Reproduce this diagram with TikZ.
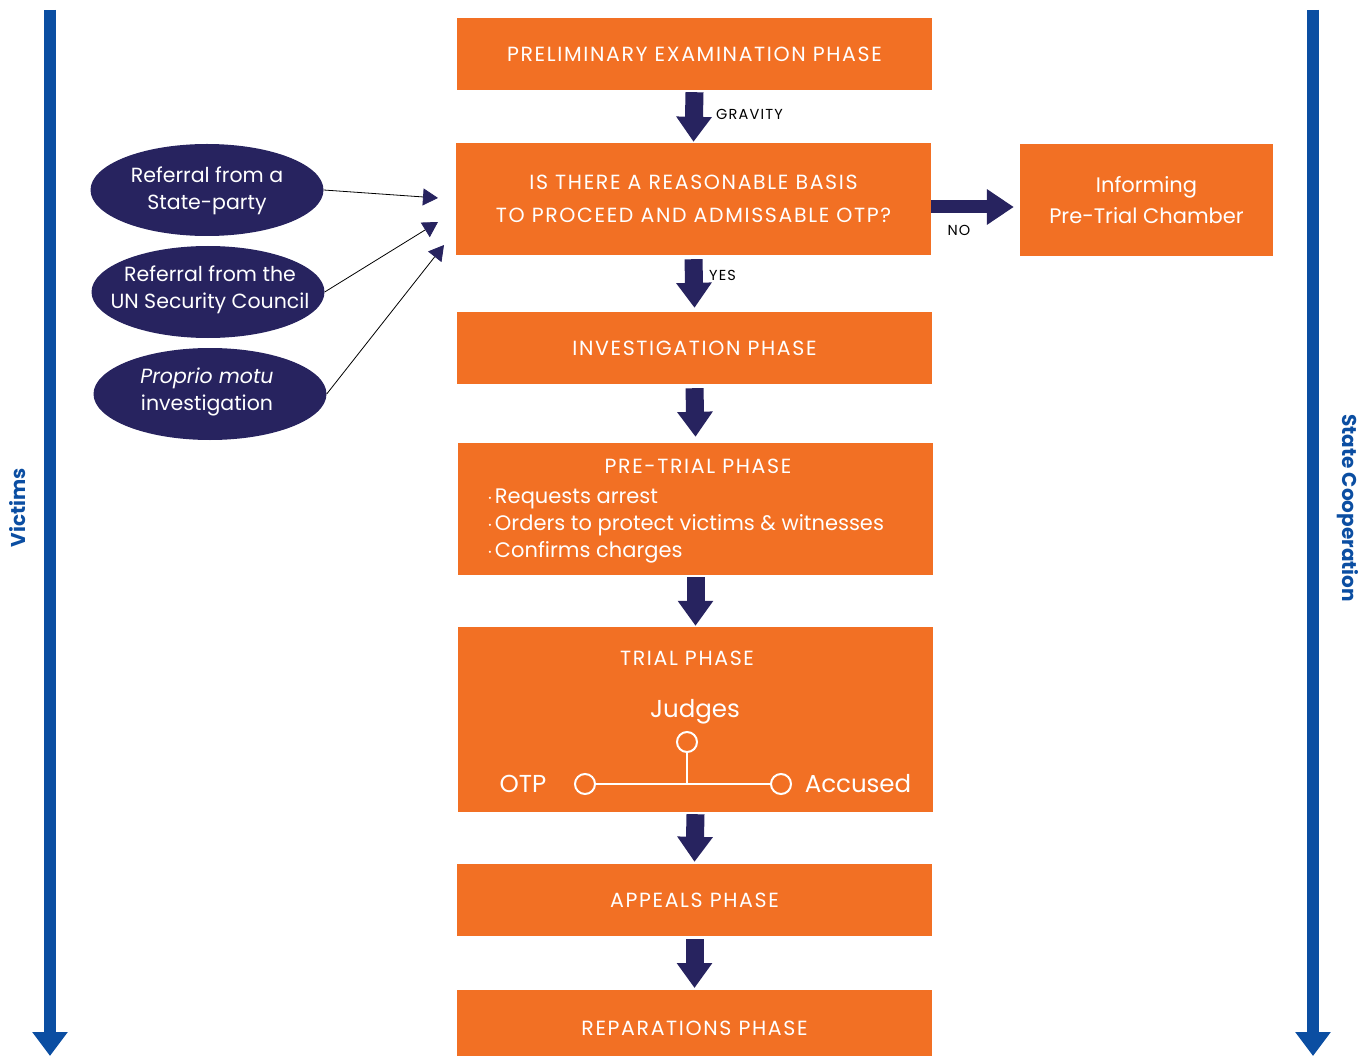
\documentclass[tikz,border=0pt]{standalone}
\usepackage{fontspec}
\setmainfont{Poppins}
\usetikzlibrary{arrows.meta,shapes.geometric}
\definecolor{icco}{HTML}{F27024}
\definecolor{iccnavy}{HTML}{27235F}
\definecolor{iccblue}{HTML}{0B4EA2}
\newcommand{\capsfont}{\fontsize{20.5}{33}\selectfont\addfontfeature{LetterSpace=8}}
\newcommand{\bul}{$\cdot$\hspace{2pt}}
\tikzset{
  phase/.style={fill=icco, draw=none, text=white, inner sep=0pt, align=center, font=\capsfont},
  source/.style={ellipse, fill=iccnavy, draw=none, inner sep=0pt, minimum width=233pt, minimum height=92pt},
  srctext/.style={text=white, inner sep=0pt, align=center, font=\fontsize{20.5}{26.5}\selectfont},
  blockarrow/.style={draw=iccnavy, line width=18pt, -{Triangle[width=34pt,length=25pt]}},
  thinarrow/.style={draw=black, line width=0.8pt, -{Triangle[width=17pt,length=15pt,fill=iccnavy,color=iccnavy]}},
  sidearrow/.style={draw=iccblue, line width=12pt, -{Triangle[width=34pt,length=24pt]}},
  sidelabel/.style={text=iccblue, font=\fontsize{20}{22}\selectfont\bfseries},
  smalllabel/.style={text=black, font=\fontsize{14.5}{16}\selectfont\addfontfeature{LetterSpace=8}, inner sep=0pt},
  ring/.style={circle, draw=white, line width=2pt, minimum size=20pt, inner sep=0pt},
  trialtxt/.style={text=white, inner sep=0pt, font=\fontsize{24.5}{28}\selectfont}
}
\begin{document}
\begin{tikzpicture}[x=1pt,y=-1pt]
\useasboundingbox (0,0) rectangle (1372,1056);

% side arrows
\coordinate (vtop) at (50,10);
\coordinate (vbot) at (50,1056);
\coordinate (stop) at (1313,10);
\coordinate (sbot) at (1313,1056);
\draw[sidearrow] (vtop) -- (vbot);
\draw[sidearrow] (stop) -- (sbot);
\node[sidelabel, rotate=90] (victims) at (18,508) {Victims};
\node[sidelabel, rotate=-90] (statecoop) at (1348,508) {State Cooperation};

% phases
\node[phase, minimum width=475pt, minimum height=72pt] (prelim) at (694.5,54) {PRELIMINARY EXAMINATION PHASE};
\node[phase, minimum width=475pt, minimum height=112pt] (basis) at (693.5,199) {IS THERE A REASONABLE BASIS\\TO PROCEED AND ADMISSABLE OTP?};
\node[phase, minimum width=253pt, minimum height=112pt, font=\fontsize{21}{31}\selectfont] (inform) at (1146.5,200) {Informing\\Pre-Trial Chamber};
\node[phase, minimum width=475pt, minimum height=72pt] (invest) at (694.5,348) {INVESTIGATION PHASE};
\node[phase, minimum width=475pt, minimum height=132pt] (pretrial) at (695.5,509) {};
\node[text=white, inner sep=0pt, font=\capsfont] (pttitle) at (698,466) {PRE-TRIAL PHASE};
\node[text=white, inner sep=0pt, anchor=west, align=left, font=\fontsize{21}{27}\selectfont] (ptlist) at (487,526) {\bul Requests arrest\\\bul Orders to protect victims \& witnesses\\\bul Confirms charges};
\node[phase, minimum width=475pt, minimum height=185pt] (trial) at (695.5,719.5) {};
\node[text=white, inner sep=0pt, font=\capsfont] (trtitle) at (687,658) {TRIAL PHASE};
\node[trialtxt] (judges) at (695,712) {Judges};
\node[trialtxt] (otp) at (523,784) {OTP};
\node[trialtxt] (accused) at (858,784) {Accused};
\node[ring] (cj) at (687,742) {};
\node[ring] (co) at (585,784) {};
\node[ring] (ca) at (781,784) {};
\draw[white, line width=2pt] (co) -- (ca);
\draw[white, line width=2pt] (cj) -- (cj |- co);
\node[phase, minimum width=475pt, minimum height=72pt] (appeals) at (694.5,900) {APPEALS PHASE};
\node[phase, minimum width=475pt, minimum height=72pt, anchor=north] (repar) at (694.5,990) {};
\node[text=white, inner sep=0pt, font=\capsfont] (reptxt) at (694.5,1028) {REPARATIONS PHASE};

% block arrows
\draw[blockarrow] ([yshift=-2pt]prelim.south) -- ([yshift=1pt]basis.north);
\draw[blockarrow] ([yshift=-4pt]basis.south) -- ([yshift=4pt]invest.north);
\draw[blockarrow] ([yshift=-4pt]invest.south) -- ([yshift=6pt]pretrial.north);
\draw[blockarrow] ([yshift=-2pt]pretrial.south) -- ([yshift=1pt]trial.north);
\draw[blockarrow] ([yshift=-2pt]trial.south) -- ([yshift=2pt]appeals.north);
\draw[blockarrow] ([yshift=-3pt]appeals.south) -- ([yshift=2pt]repar.north);
\draw[draw=iccnavy, line width=13pt, -{Triangle[width=34pt,length=27pt]}] (basis.east |- 0,207) -- ([xshift=-6pt]inform.west |- 0,207);

\node[smalllabel, anchor=west] (grav) at (716,114) {GRAVITY};
\node[smalllabel, anchor=west] (yes) at (709,275) {YES};
\node[smalllabel] (no) at (959,230) {NO};

% sources
\node[source] (e1) at (207,190) {};
\node[source] (e2) at (208,292) {};
\node[source] (e3) at (210,394) {};
\node[srctext] (e1t) at (207,191) {Referral from a\\State-party};
\node[srctext] (e2t) at (210,290) {Referral from the\\UN Security Council};
\node[srctext] (e3t) at (207,392) {\itshape Proprio motu\\investigation};
\coordinate (t1) at (438,198);
\coordinate (t2) at (438,222);
\coordinate (t3) at (444,245);
\draw[thinarrow] (e1.east) -- (t1);
\draw[thinarrow] (e2.east) -- (t2);
\draw[thinarrow] (e3.east) -- (t3);
\end{tikzpicture}
\end{document}
